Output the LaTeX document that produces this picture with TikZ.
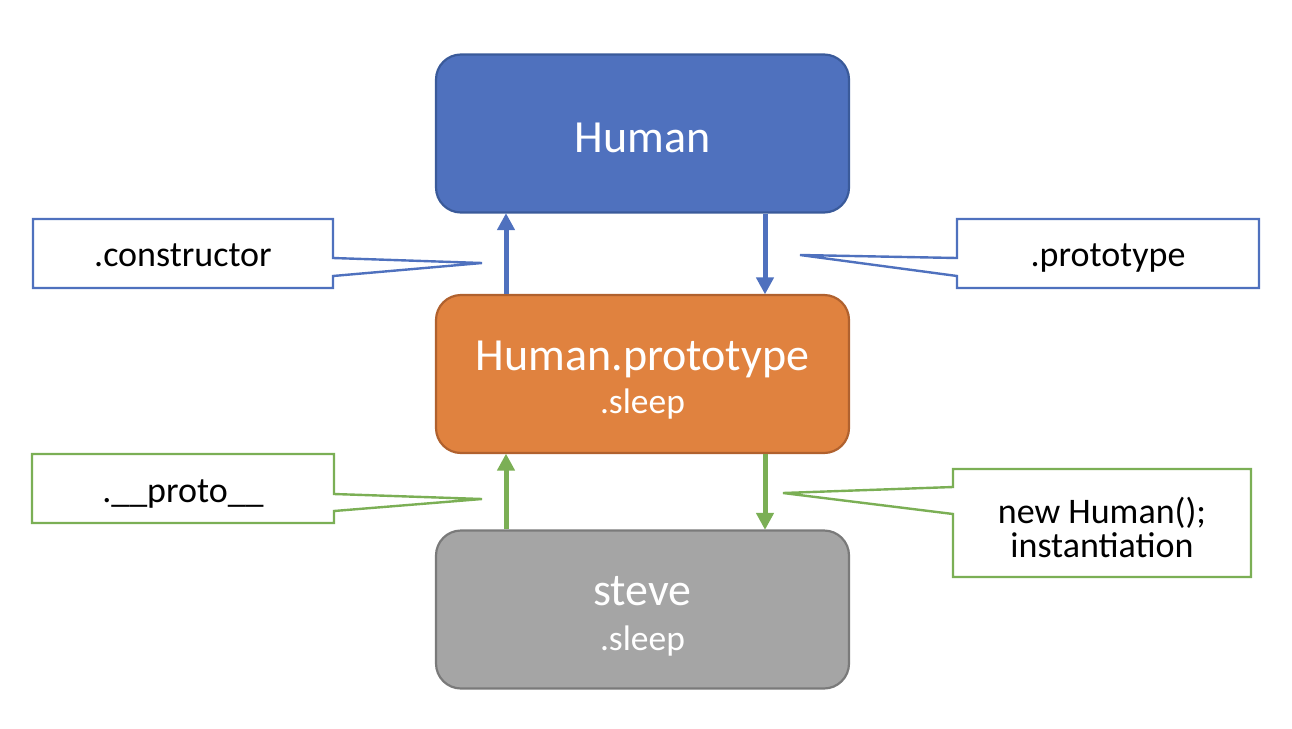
\documentclass[tikz,border=0pt]{standalone}
\usepackage{fontspec}
\setmainfont{Carlito}
\usetikzlibrary{arrows.meta}
\definecolor{hblue}{HTML}{4F71BE}
\definecolor{hblueD}{HTML}{3A5A9A}
\definecolor{horange}{HTML}{E0823F}
\definecolor{horangeD}{HTML}{B0612E}
\definecolor{hgray}{HTML}{A5A5A5}
\definecolor{hgrayD}{HTML}{7A7A7A}
\definecolor{hgreen}{HTML}{7BAF55}
\tikzset{
  objbox/.style={rounded corners=25pt, minimum width=413pt, minimum height=158pt, line width=2.2pt, inner sep=0pt},
  bigtxt/.style={anchor=base, text=white, font=\fontsize{46}{50}\selectfont, inner sep=0pt},
  smalltxt/.style={anchor=base, text=white, font=\fontsize{35.5}{40}\selectfont, inner sep=0pt},
  calltxt/.style={anchor=base, text=black, font=\fontsize{36}{40}\selectfont, inner sep=0pt, align=center},
  callout/.style={line width=2.4pt, fill=white, line join=miter},
  linkarrow/.style={line width=5pt, -{Triangle[length=17pt,width=17pt]}, shorten >=-0.5pt},
}
\begin{document}
\begin{tikzpicture}[x=1pt,y=-1pt]
\useasboundingbox (0,0) rectangle (1292,728);
% boxes
\node[objbox, fill=hblue, draw=hblueD] (human) at (642.5,133.5) {};
\node[bigtxt] (humanT) at (642.5,152) {Human};
\node[objbox, fill=horange, draw=horangeD] (proto) at (642.5,374) {};
\node[bigtxt] (protoT) at (642.5,370) {Human.prototype};
\node[smalltxt] (protoS) at (642.5,413) {.sleep};
\node[objbox, fill=hgray, draw=hgrayD] (steve) at (642.5,609.5) {};
\node[bigtxt] (steveT) at (642.5,605) {steve};
\node[smalltxt] (steveS) at (642.5,650) {.sleep};
% arrow columns
\coordinate (xl) at (506,0);
\coordinate (xr) at (765,0);
\draw[linkarrow, draw=hblue, fill=hblue] (proto.north -| xl) -- (human.south -| xl);
\draw[linkarrow, draw=hblue, fill=hblue] (human.south -| xr) -- (proto.north -| xr);
\draw[linkarrow, draw=hgreen, fill=hgreen] (steve.north -| xl) -- (proto.south -| xl);
\draw[linkarrow, draw=hgreen, fill=hgreen] (proto.south -| xr) -- (steve.north -| xr);
% callout tips
\coordinate (tipC) at (482,263);
\coordinate (tipP) at (800,255);
\coordinate (tipPr) at (482,499);
\coordinate (tipN) at (783,493);
% callouts
\draw[callout, draw=hblue] (33,219) -- (333,219) -- (333,258) -- (tipC) -- (333,276) -- (333,288) -- (33,288) -- cycle;
\node[calltxt] (consT) at (183,266) {.constructor};
\draw[callout, draw=hblue] (957,219) -- (1259,219) -- (1259,288) -- (957,288) -- (957,276) -- (tipP) -- (957,258) -- cycle;
\node[calltxt] (protoL) at (1108,266) {.prototype};
\draw[callout, draw=hgreen] (32,454) -- (334,454) -- (334,494) -- (tipPr) -- (334,511) -- (334,523) -- (32,523) -- cycle;
\node[calltxt] (dunderT) at (183,502) {.\_\_proto\_\_};
\draw[callout, draw=hgreen] (953,469) -- (1251,469) -- (1251,577) -- (953,577) -- (953,514) -- (tipN) -- (953,487) -- cycle;
\node[calltxt] (newT1) at (1102,523) {new Human();};
\node[calltxt] (newT2) at (1102,557) {instantiation};
\end{tikzpicture}
\end{document}
